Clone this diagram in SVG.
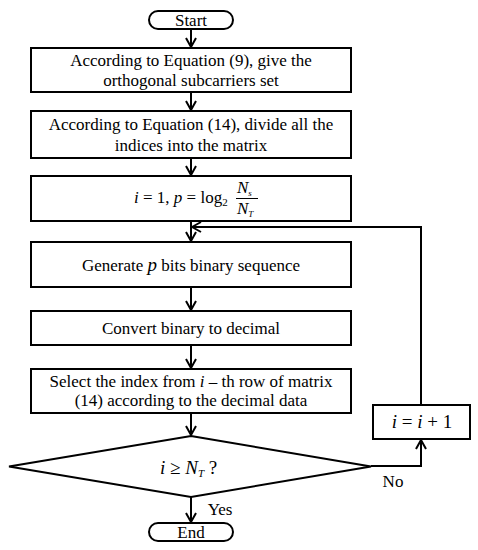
<svg xmlns="http://www.w3.org/2000/svg" width="478" height="550" viewBox="0 0 478 550">
<defs>
<style>
.b{fill:#fff;stroke:#000;stroke-width:2}
.l{fill:none;stroke:#000;stroke-width:2}
.t{font-family:"Liberation Serif","Times New Roman",serif;font-size:17px;fill:#000;text-anchor:middle}
.m{font-family:"Liberation Serif","Times New Roman",serif;font-style:italic;fill:#000}
.r{font-family:"Liberation Serif","Times New Roman",serif;font-style:normal;fill:#000}
</style>
<marker id="a" viewBox="0 0 12 12" refX="11" refY="6" markerWidth="12" markerHeight="12" markerUnits="userSpaceOnUse" orient="auto">
<path d="M2,1 L11,6 L2,11" fill="none" stroke="#000" stroke-width="2"/>
</marker>
</defs>
<rect width="478" height="550" fill="#fff"/>
<g id="connectors">
<line class="l" x1="191" y1="29" x2="191" y2="47" marker-end="url(#a)"/>
<line class="l" x1="191" y1="92" x2="191" y2="110" marker-end="url(#a)"/>
<line class="l" x1="191" y1="158" x2="191" y2="175" marker-end="url(#a)"/>
<line class="l" x1="191" y1="221" x2="191" y2="241" marker-end="url(#a)"/>
<line class="l" x1="191" y1="287" x2="191" y2="310" marker-end="url(#a)"/>
<line class="l" x1="191" y1="345" x2="191" y2="368" marker-end="url(#a)"/>
<line class="l" x1="191" y1="413" x2="191" y2="435" marker-end="url(#a)"/>
<line class="l" x1="191" y1="497" x2="191" y2="522" marker-end="url(#a)"/>
<polyline class="l" points="371,466 421,466 421,440" marker-end="url(#a)"/>
<polyline class="l" points="421,405 421,227 192,227" marker-end="url(#a)"/>
<text class="t" x="393" y="487">No</text>
<text class="t" x="220" y="515">Yes</text>
</g>
<g id="start">
<rect class="b" x="149" y="11" width="84" height="18" rx="9"/>
<text class="t" x="191" y="26">Start</text>
</g>
<g id="box1">
<rect class="b" x="31" y="48" width="320" height="44"/>
<text class="t" x="191" y="66">According to Equation (9), give the</text>
<text class="t" x="191" y="86">orthogonal subcarriers set</text>
</g>
<g id="box2">
<rect class="b" x="31" y="111" width="320" height="47"/>
<text class="t" x="191" y="130">According to Equation (14), divide all the</text>
<text class="t" x="191" y="151">indices into the matrix</text>
</g>
<g id="box3">
<rect class="b" x="31" y="176" width="320" height="45"/>
<text class="m" x="134" y="203" font-size="17">i<tspan class="r"> = 1, </tspan>p<tspan class="r"> = log</tspan><tspan class="r" font-size="11" dy="3">2</tspan></text>
<line x1="236" y1="198.5" x2="258" y2="198.5" stroke="#000" stroke-width="1"/>
<text class="m" x="237" y="193" font-size="17">N<tspan font-size="9" dy="3">s</tspan></text>
<text class="m" x="237" y="214" font-size="17">N<tspan font-size="9" dy="3">T</tspan></text>
</g>
<g id="box4">
<rect class="b" x="31" y="242" width="320" height="45"/>
<text class="t" x="191" y="271">Generate <tspan font-style="italic" font-size="19">p</tspan> bits binary sequence</text>
</g>
<g id="box5">
<rect class="b" x="31" y="311" width="320" height="34"/>
<text class="t" x="191" y="334">Convert binary to decimal</text>
</g>
<g id="box6">
<rect class="b" x="31" y="369" width="320" height="44"/>
<text class="t" x="191" y="387">Select the index from <tspan font-style="italic">i</tspan> – th  row of matrix</text>
<text class="t" x="191" y="406">(14) according to the decimal data</text>
</g>
<g id="decision">
<polygon class="b" points="191,436 371,466.5 191,497 9,466.5"/>
<text class="m" x="160" y="474" font-size="19">i<tspan class="r"> ≥ </tspan>N<tspan font-size="11" dy="3">T</tspan><tspan class="r" dy="-3"> ?</tspan></text>
</g>
<g id="increment">
<rect class="b" x="373" y="405" width="97" height="34"/>
<text class="m" x="422" y="428" font-size="19" text-anchor="middle">i<tspan class="r"> = </tspan>i<tspan class="r"> + 1</tspan></text>
</g>
<g id="end">
<rect class="b" x="149" y="523" width="84" height="18" rx="9"/>
<text class="t" x="191" y="538">End</text>
</g>
</svg>
